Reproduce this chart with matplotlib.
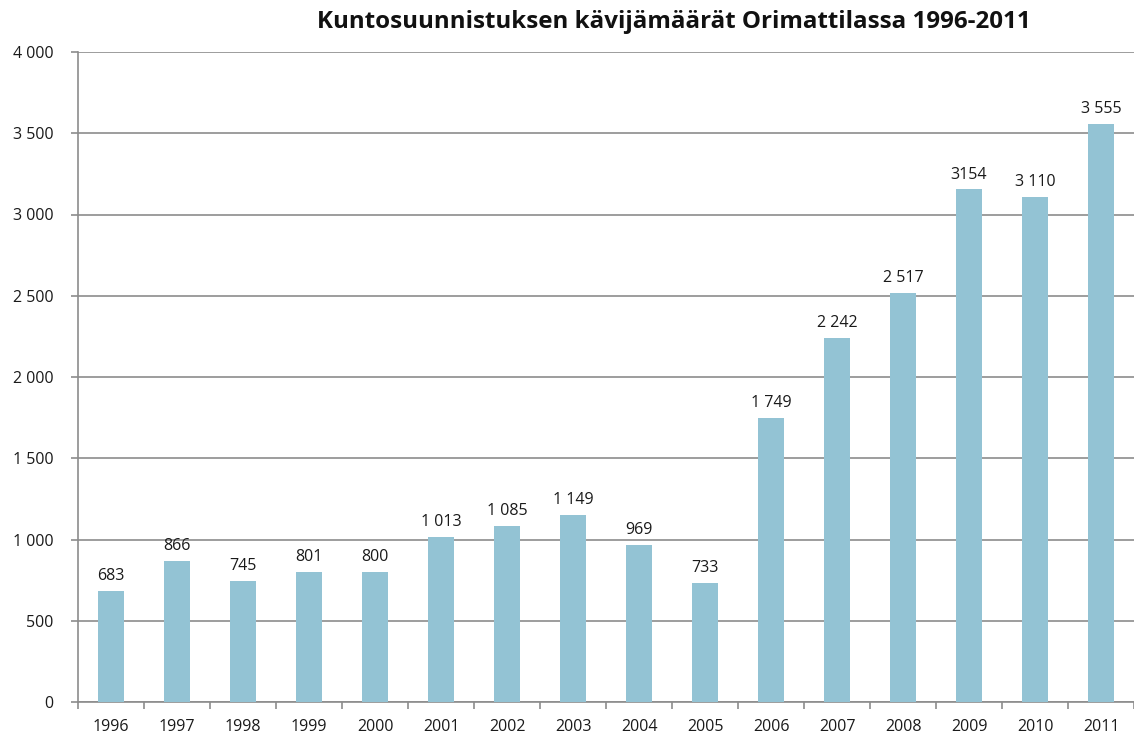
import matplotlib
matplotlib.use("Agg")
import matplotlib.pyplot as plt
import numpy as np

years = ["1996", "1997", "1998", "1999", "2000", "2001", "2002", "2003",
         "2004", "2005", "2006", "2007", "2008", "2009", "2010", "2011"]
visitors = [683, 866, 745, 801, 800, 1013, 1085, 1149, 969, 733, 1749, 2242,
            2517, 3154, 3110, 3555]
bar_labels = ["683", "866", "745", "801", "800", "1 013", "1 085", "1 149",
              "969", "733", "1 749", "2 242", "2 517", "3154", "3 110", "3 555"]
yticks = [0, 500, 1000, 1500, 2000, 2500, 3000, 3500, 4000]
ytick_labels = ["0", "500", "1 000", "1 500", "2 000", "2 500", "3 000", "3 500", "4 000"]
title = "Kuntosuunnistuksen kävijämäärät Orimattilassa 1996-2011"

plt.rcParams['font.family'] = ['Open Sans', 'DejaVu Sans']

W, H = 1134, 736
fig = plt.figure(figsize=(W / 100, H / 100), dpi=100)
ax = fig.add_axes([78 / W, (H - 702) / H, (W - 78) / W, 650 / H])

x = np.arange(len(years))
bar_color = "#93C3D4"
grid_color = "#8C8C8C"
text_color = "#1a1a1a"
ax.bar(x, visitors, width=0.4, color=bar_color, zorder=3)

for xi, v, lab in zip(x, visitors, bar_labels):
    ax.annotate(lab, (xi, v), xytext=(0, 5), textcoords="offset points",
                ha="center", va="bottom", fontsize=11.5, color=text_color)

ax.set_xlim(-0.5, len(years) - 0.5)
ax.set_ylim(0, 4000)
ax.set_yticks(yticks)
ax.set_yticklabels(ytick_labels, fontsize=11.5, color=text_color)
ax.yaxis.grid(True, color=grid_color, linewidth=1.2, zorder=0)
ax.set_axisbelow(True)

ax.set_xticks(x)
ax.set_xticklabels(years, fontsize=11.5, color=text_color)
ax.tick_params(axis="x", length=0, pad=12)
ax.set_xticks(np.arange(-0.5, len(years), 1.0), minor=True)
ax.tick_params(axis="x", which="minor", length=5, width=1.2, color=grid_color)
ax.tick_params(axis="y", length=5, width=1.2, color=grid_color, pad=12.5)

for s in ["top", "right"]:
    ax.spines[s].set_visible(False)
for s in ["left", "bottom"]:
    ax.spines[s].set_color(grid_color)
    ax.spines[s].set_linewidth(1.2)

fig.text(674 / W, 1 - 22 / H, title, ha="center", va="center",
         fontsize=17.4, fontweight="bold", color="#111111")

fig.savefig("out.png", dpi=100)
